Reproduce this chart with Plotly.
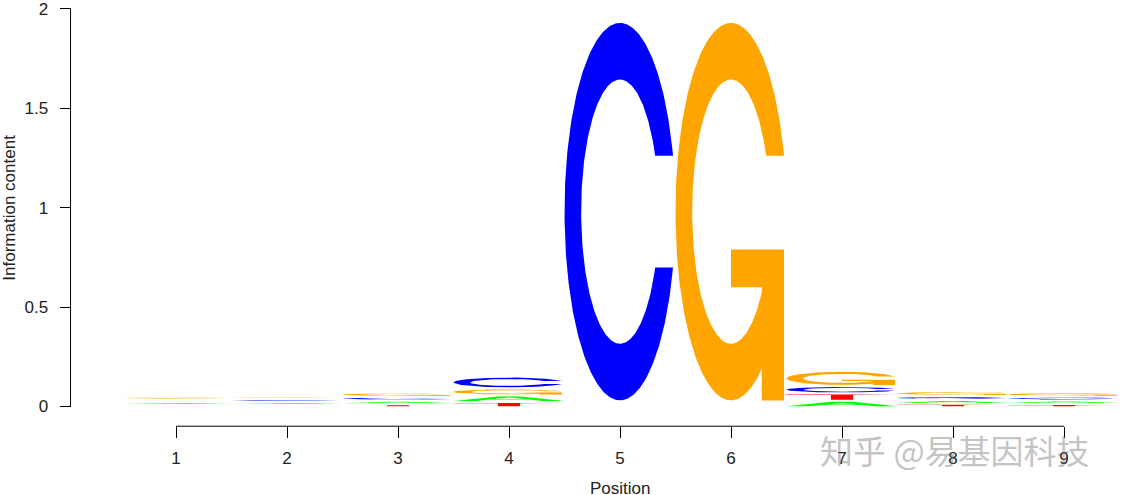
"""
Sequence logo (seqLogo style) - information content per position
"""

import numpy as np
import plotly.graph_objects as go

# position weight matrix, one list per base (probabilities per position)
positions = [1, 2, 3, 4, 5, 6, 7, 8, 9]
prob_A = [0.24, 0.25, 0.22, 0.20, 0.0, 0.0, 0.160, 0.22, 0.23]
prob_C = [0.26, 0.27, 0.27, 0.43, 1.0, 0.0, 0.195, 0.25, 0.25]
prob_G = [0.30, 0.29, 0.33, 0.22, 0.0, 1.0, 0.460, 0.35, 0.34]
prob_T = [0.20, 0.19, 0.18, 0.15, 0.0, 0.0, 0.185, 0.18, 0.18]

y_ticks = [0, 0.5, 1, 1.5, 2]
y_tick_labels = ["0", "0.5", "1", "1.5", "2"]

BASES = ["A", "C", "G", "T"]
COLORS = {"A": "#00FF00", "C": "#0000FF", "G": "#FFA500", "T": "#FF0000"}
FONT = "Liberation Sans, Arial, Helvetica, sans-serif"


# ---- letter glyphs in a unit box (same outlines seqLogo uses) ----
def _ring():
    a1 = np.linspace(0.3 + np.pi / 2, np.pi, 100)
    a2 = np.linspace(np.pi, 1.5 * np.pi, 100)
    xl = np.r_[0.5 + 0.5 * np.sin(a1), 0.5 + 0.5 * np.sin(a2)]
    yl1 = 0.5 + 0.5 * np.cos(a1)
    yl = np.r_[yl1, 0.5 + 0.5 * np.cos(a2)]
    x = np.r_[xl, xl[::-1]]
    y = np.r_[yl, 1 - yl[::-1]]
    xi1 = 0.5 + 0.35 * np.sin(a1)
    yi1 = 0.5 + 0.35 * np.cos(a1)
    keep = yi1 <= yl1.max()
    xi1, yi1 = xi1[keep], yi1[keep]
    yi1[0] = yl1.max()
    xi = np.r_[xi1, 0.5 + 0.35 * np.sin(a2)]
    yi = np.r_[yi1, 0.5 + 0.35 * np.cos(a2)]
    x1 = np.r_[xi, xi[::-1]]
    y1 = np.r_[yi, 1 - yi[::-1]]
    return np.r_[x, x1[::-1]], np.r_[y, y1[::-1]], xl.max()


def glyph(base):
    """list of (x, y, fill) polygons for a base in unit coordinates"""
    if base == "A":
        x = np.array([0, 4, 6, 10, 8, 6.8, 3.2, 2, 0]) * 0.1
        y = np.array([0, 10, 10, 0, 0, 3, 3, 0, 0]) * 0.1
        xh = np.array([3.6, 5, 6.4, 3.6]) * 0.1
        yh = np.array([4, 7.5, 4, 4]) * 0.1
        return [(x, y, COLORS["A"]), (xh, yh, "white")]
    if base == "T":
        x = np.array([0, 10, 10, 6, 6, 4, 4, 0]) * 0.1
        y = np.array([10, 10, 9, 9, 0, 0, 9, 9]) * 0.1
        return [(x, y, COLORS["T"])]
    x, y, r1 = _ring()
    if base == "C":
        return [(x, y, COLORS["C"])]
    h1 = 0.4
    xa = np.array([r1, 0.5, 0.5, r1 - 0.2, r1 - 0.2, r1, r1])
    ya = np.array([h1, h1, h1 - 0.1, h1 - 0.1, 0, 0, h1])
    return [(x, y, COLORS["G"]), (xa, ya, COLORS["G"])]


def info_content(col):
    return 2 + sum(p * np.log2(p) for p in col if p > 0)


pwm = {"A": prob_A, "C": prob_C, "G": prob_G, "T": prob_T}

# polygons grouped by (fill, part) so overlapping parts don't cancel out
polys = {}
for j, pos in enumerate(positions):
    col = [pwm[b][j] for b in BASES]
    ic = info_content(col)
    hts = [0.95 * p * ic for p in col]
    order = np.argsort(hts, kind="stable")
    x_pos = pos - 1
    y_pos = 0.0
    for i in order:
        ht = hts[i]
        if ht > 0:
            for k, (gx, gy, fill) in enumerate(glyph(BASES[i])):
                xs, ys = polys.setdefault((fill, k), ([], []))
                xs.extend(list(x_pos + gx) + [None])
                ys.extend(list(y_pos + ht * gy) + [None])
        y_pos += ht + 0.01

fig = go.Figure()
# white A-holes last so they sit on top
for key in sorted(polys, key=lambda kk: kk[0] == "white"):
    fill = key[0]
    xs, ys = polys[key]
    fig.add_trace(go.Scatter(
        x=xs, y=ys, mode="lines", fill="toself",
        fillcolor=fill, line=dict(width=0, color=fill),
        hoverinfo="skip", showlegend=False,
    ))

# whole canvas is the plot area; map pixels -> data like the grid viewport
W, H = 1121, 495
PX_X, X_REF_PX = 111.0, 176.0      # px per position, px of first tick
PX_Y, Y0_PX = 199.5, 406.0         # px per bit, px of 0 bits
xlo = 0.5 - X_REF_PX / PX_X
xhi = 0.5 + (W - X_REF_PX) / PX_X
ylo = -(H - Y0_PX) / PX_Y
yhi = Y0_PX / PX_Y

x_axis_y = -0.1
y_axis_x = -0.45
xtick_vals = [p - 0.5 for p in positions]

# axis lines (span ticks only, like grid axes)
fig.add_shape(type="line", x0=xtick_vals[0], x1=xtick_vals[-1], y0=x_axis_y, y1=x_axis_y,
              line=dict(color="black", width=1))
fig.add_shape(type="line", x0=y_axis_x, x1=y_axis_x, y0=y_ticks[0], y1=y_ticks[-1],
              line=dict(color="black", width=1))

fig.add_annotation(x=np.mean(xtick_vals), y=-0.413, text="Position", showarrow=False,
                   font=dict(family=FONT, size=17, color="#222"))
fig.add_annotation(x=xlo + 10 / PX_X, y=1.0, text="Information content", showarrow=False,
                   textangle=-90, font=dict(family=FONT, size=17, color="#222"))
# watermark
fig.add_annotation(x=7.52, y=-0.22, text="知乎 @易基因科技", showarrow=False,
                   font=dict(family="Noto Sans CJK SC", size=33, color="rgba(110,110,110,0.42)"))

fig.update_layout(
    width=W, height=H,
    margin=dict(l=0, r=0, t=0, b=0),
    plot_bgcolor="white", paper_bgcolor="white",
    xaxis=dict(
        range=[xlo, xhi], domain=[0, 1], anchor="free",
        position=(x_axis_y - ylo) / (yhi - ylo),
        tickvals=xtick_vals, ticktext=[str(p) for p in positions],
        ticks="outside", ticklen=11, tickcolor="black", tickwidth=1,
        ticklabelstandoff=5,
        showline=False, showgrid=False, zeroline=False,
        tickfont=dict(family=FONT, size=17, color="#222"),
    ),
    yaxis=dict(
        range=[ylo, yhi], domain=[0, 1], anchor="free",
        position=(y_axis_x - xlo) / (xhi - xlo),
        tickvals=y_ticks, ticktext=y_tick_labels,
        ticks="outside", ticklen=11, tickcolor="black", tickwidth=1,
        ticklabelstandoff=8, ticklabeloverflow="allow",
        showline=False, showgrid=False, zeroline=False,
        tickfont=dict(family=FONT, size=17, color="#222"),
    ),
)

# drop the default 8px body margin so the figure sits at the window corner
fig.write_html("out.html", config={"displayModeBar": False},
               post_script="document.body.style.margin = '0';")
